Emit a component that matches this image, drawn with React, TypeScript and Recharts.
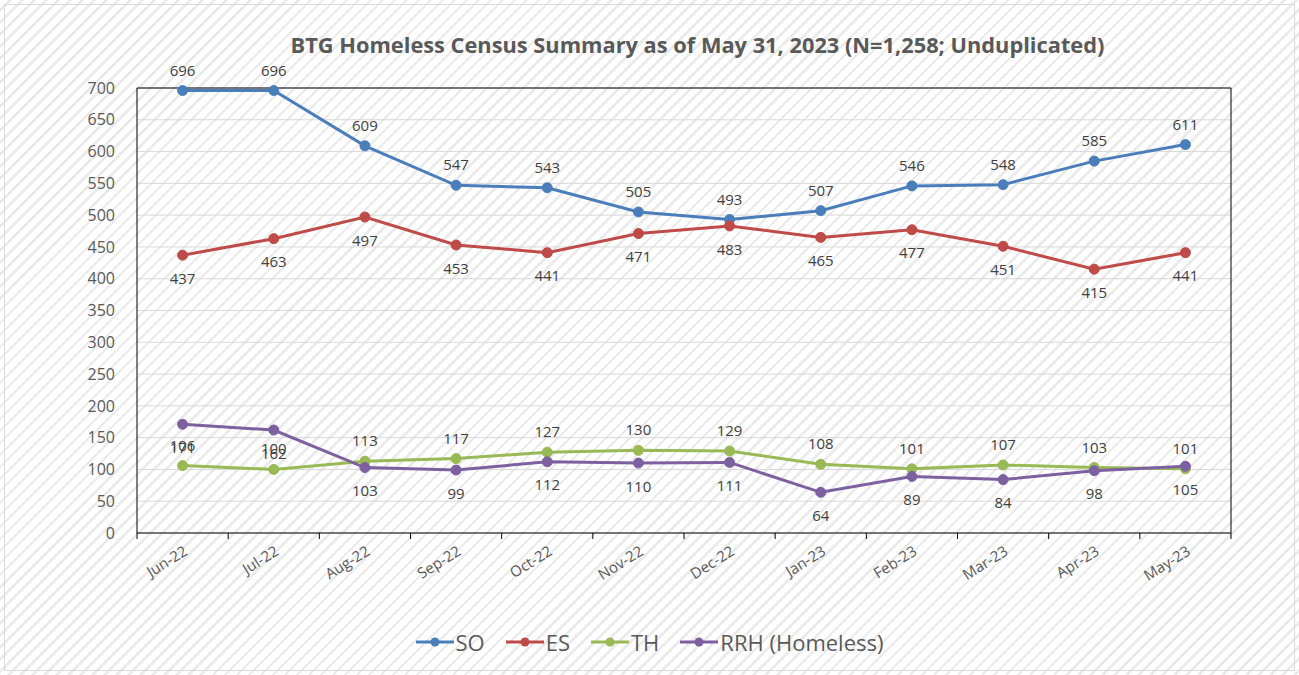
import { CartesianGrid, LabelList, Legend, Line, LineChart, XAxis, YAxis } from 'recharts';

const months = ['Jun-22', 'Jul-22', 'Aug-22', 'Sep-22', 'Oct-22', 'Nov-22', 'Dec-22', 'Jan-23', 'Feb-23', 'Mar-23', 'Apr-23', 'May-23'];
const so = [696, 696, 609, 547, 543, 505, 493, 507, 546, 548, 585, 611];
const es = [437, 463, 497, 453, 441, 471, 483, 465, 477, 451, 415, 441];
const th = [106, 100, 113, 117, 127, 130, 129, 108, 101, 107, 103, 101];
const rrh = [171, 162, 103, 99, 112, 110, 111, 64, 89, 84, 98, 105];
const yTicks = [0, 50, 100, 150, 200, 250, 300, 350, 400, 450, 500, 550, 600, 650, 700];

const series = [
  { key: 'SO', name: 'SO', color: '#4A7EBB', pos: 'top' },
  { key: 'ES', name: 'ES', color: '#BE4B48', pos: 'bottom' },
  { key: 'TH', name: 'TH', color: '#98B954', pos: 'top' },
  { key: 'RRH', name: 'RRH (Homeless)', color: '#7D60A0', pos: 'bottom' },
];

const data = months.map((m, i) => ({ month: m, SO: so[i], ES: es[i], TH: th[i], RRH: rrh[i] }));

const FONT = '"Open Sans", "Noto Sans", sans-serif';
const W = 1299;
const H = 675;
const LEFT = 137;
const RIGHT = 67;
const STEP = (W - LEFT - RIGHT - 1) / months.length;

const MonthTick = (props: any) => {
  const { x, y, payload, index } = props;
  const tx = x + 6;
  const ty = y + 21;
  return (
    <g>
      <line x1={x - STEP / 2} x2={x - STEP / 2} y1={y} y2={y + 6} stroke="#000" />
      {index === months.length - 1 && (
        <line x1={x + STEP / 2} x2={x + STEP / 2} y1={y} y2={y + 6} stroke="#000" />
      )}
      <text
        x={tx}
        y={ty}
        transform={`rotate(-32 ${tx} ${ty})`}
        textAnchor="end"
        fontSize={15}
        fill="#595959"
        fontFamily={FONT}
      >
        {payload.value}
      </text>
    </g>
  );
};

const LegendContent = () => (
  <div style={{ display: 'flex', justifyContent: 'center', alignItems: 'center', height: 40, paddingLeft: 88 }}>
    {series.map((s) => (
      <div key={s.key} style={{ display: 'flex', alignItems: 'center', marginRight: 21 }}>
        <svg width={38} height={12}>
          <line x1={0} x2={38} y1={6} y2={6} stroke={s.color} strokeWidth={3} />
          <circle cx={19} cy={6} r={4.5} fill={s.color} />
        </svg>
        <span style={{ fontSize: 22, color: '#595959', fontFamily: FONT, marginLeft: 2 }}>{s.name}</span>
      </div>
    ))}
  </div>
);

export default function App() {
  return (
    <div
      style={{
        position: 'absolute',
        left: 0,
        top: 0,
        width: W,
        height: H,
        background: 'repeating-linear-gradient(135deg, #ffffff 0px, #ffffff 6px, #ebebeb 6px, #ebebeb 8.5px)',
      }}
    >
      <div
        style={{
          position: 'absolute',
          left: 4,
          top: 4,
          right: 4,
          bottom: 4,
          border: '1px solid #d9d9d9',
        }}
      />
      <div
        style={{
          position: 'absolute',
          top: 30,
          left: 48,
          width: W,
          textAlign: 'center',
          fontFamily: FONT,
          fontWeight: 700,
          fontSize: 21.8,
          color: '#595959',
        }}
      >
        BTG Homeless Census Summary as of May 31, 2023 (N=1,258; Unduplicated)
      </div>
      <LineChart width={W} height={H} data={data} margin={{ top: 87, right: RIGHT, left: 0, bottom: 13 }}>
        <CartesianGrid vertical={false} stroke="#d9d9d9" yAxisId="left" />
        <XAxis
          dataKey="month"
          xAxisId="bottom"
          padding={{ left: STEP / 2, right: STEP / 2 }}
          axisLine={{ stroke: '#000' }}
          tickLine={false}
          tickSize={0}
          tickMargin={0}
          height={89}
          interval={0}
          tick={<MonthTick />}
        />
        <XAxis dataKey="month" xAxisId="top" orientation="top" height={1} tick={false} tickLine={false} axisLine={{ stroke: '#000' }} />
        <YAxis
          yAxisId="left"
          width={LEFT}
          domain={[0, 700]}
          ticks={yTicks}
          interval={0}
          axisLine={{ stroke: '#000' }}
          tickLine={false}
          tickMargin={16}
          tick={{ fontSize: 16, fill: '#595959', fontFamily: FONT }}
        />
        <YAxis yAxisId="right" orientation="right" width={1} domain={[0, 700]} tick={false} tickLine={false} axisLine={{ stroke: '#000' }} />
        <Legend verticalAlign="bottom" content={<LegendContent />} />
        {series.map((s) => (
          <Line
            key={s.key}
            dataKey={s.key}
            name={s.name}
            xAxisId="bottom"
            yAxisId="left"
            stroke={s.color}
            strokeWidth={3}
            dot={{ r: 5, fill: s.color, stroke: s.color, strokeWidth: 1 }}
            activeDot={false}
            isAnimationActive={false}
          >
            <LabelList
              dataKey={s.key}
              position={s.pos as any}
              offset={s.pos === 'top' ? 15 : 18}
              fontSize={15}
              fill="#404040"
              fontFamily={FONT}
            />
          </Line>
        ))}
      </LineChart>
    </div>
  );
}
